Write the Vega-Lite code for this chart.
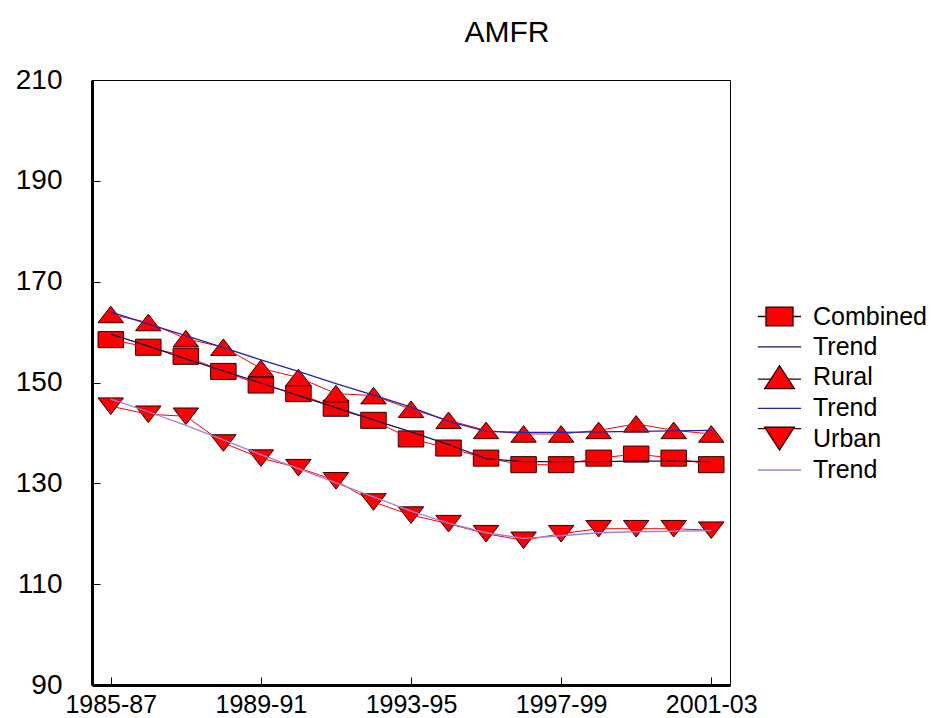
{
  "$schema": "https://vega.github.io/schema/vega-lite/v6.json",
  "width": 638,
  "height": 605,
  "autosize": {"type": "none"},
  "padding": {"left": 92, "top": 80, "right": 202, "bottom": 33},
  "background": "white",
  "config": {
    "view": {"stroke": "#000000", "strokeWidth": 1},
    "font": "Liberation Sans"
  },
  "title": {"text": "AMFR", "fontSize": 30, "fontWeight": "normal", "color": "#000000", "dx": 96, "offset": 18, "anchor": "middle", "font": "Liberation Sans"},
  "datasets": {
    "obs": [
      {"period": "1985-87", "series": "Combined", "value": 158.5},
      {"period": "1986-88", "series": "Combined", "value": 157.0},
      {"period": "1987-89", "series": "Combined", "value": 155.2},
      {"period": "1988-90", "series": "Combined", "value": 152.2},
      {"period": "1989-91", "series": "Combined", "value": 149.5},
      {"period": "1990-92", "series": "Combined", "value": 147.8},
      {"period": "1991-93", "series": "Combined", "value": 144.9},
      {"period": "1992-94", "series": "Combined", "value": 142.5},
      {"period": "1993-95", "series": "Combined", "value": 138.8},
      {"period": "1994-96", "series": "Combined", "value": 137.0},
      {"period": "1995-97", "series": "Combined", "value": 135.0},
      {"period": "1996-98", "series": "Combined", "value": 133.7},
      {"period": "1997-99", "series": "Combined", "value": 133.7},
      {"period": "1998-00", "series": "Combined", "value": 135.0},
      {"period": "1999-01", "series": "Combined", "value": 135.8},
      {"period": "2000-02", "series": "Combined", "value": 135.0},
      {"period": "2001-03", "series": "Combined", "value": 133.7},
      {"period": "1985-87", "series": "Rural", "value": 163.5},
      {"period": "1986-88", "series": "Rural", "value": 161.9},
      {"period": "1987-89", "series": "Rural", "value": 158.7},
      {"period": "1988-90", "series": "Rural", "value": 157.0},
      {"period": "1989-91", "series": "Rural", "value": 152.8},
      {"period": "1990-92", "series": "Rural", "value": 151.0},
      {"period": "1991-93", "series": "Rural", "value": 147.8},
      {"period": "1992-94", "series": "Rural", "value": 147.4},
      {"period": "1993-95", "series": "Rural", "value": 144.7},
      {"period": "1994-96", "series": "Rural", "value": 142.5},
      {"period": "1995-97", "series": "Rural", "value": 140.5},
      {"period": "1996-98", "series": "Rural", "value": 139.8},
      {"period": "1997-99", "series": "Rural", "value": 139.8},
      {"period": "1998-00", "series": "Rural", "value": 140.5},
      {"period": "1999-01", "series": "Rural", "value": 141.8},
      {"period": "2000-02", "series": "Rural", "value": 140.5},
      {"period": "2001-03", "series": "Rural", "value": 139.8},
      {"period": "1985-87", "series": "Urban", "value": 145.3},
      {"period": "1986-88", "series": "Urban", "value": 143.7},
      {"period": "1987-89", "series": "Urban", "value": 143.3},
      {"period": "1988-90", "series": "Urban", "value": 138.0},
      {"period": "1989-91", "series": "Urban", "value": 135.0},
      {"period": "1990-92", "series": "Urban", "value": 133.1},
      {"period": "1991-93", "series": "Urban", "value": 130.5},
      {"period": "1992-94", "series": "Urban", "value": 126.3},
      {"period": "1993-95", "series": "Urban", "value": 123.7},
      {"period": "1994-96", "series": "Urban", "value": 122.0},
      {"period": "1995-97", "series": "Urban", "value": 120.0},
      {"period": "1996-98", "series": "Urban", "value": 118.7},
      {"period": "1997-99", "series": "Urban", "value": 120.0},
      {"period": "1998-00", "series": "Urban", "value": 121.0},
      {"period": "1999-01", "series": "Urban", "value": 121.0},
      {"period": "2000-02", "series": "Urban", "value": 121.0},
      {"period": "2001-03", "series": "Urban", "value": 120.7}
    ],
    "trend": [
      {"period": "1985-87", "series": "Trend C", "value": 159.6},
      {"period": "1986-88", "series": "Trend C", "value": 157.2},
      {"period": "1987-89", "series": "Trend C", "value": 154.7},
      {"period": "1988-90", "series": "Trend C", "value": 152.3},
      {"period": "1989-91", "series": "Trend C", "value": 149.9},
      {"period": "1990-92", "series": "Trend C", "value": 147.4},
      {"period": "1991-93", "series": "Trend C", "value": 145.0},
      {"period": "1992-94", "series": "Trend C", "value": 142.6},
      {"period": "1993-95", "series": "Trend C", "value": 140.2},
      {"period": "1994-96", "series": "Trend C", "value": 137.7},
      {"period": "1995-97", "series": "Trend C", "value": 134.9},
      {"period": "1996-98", "series": "Trend C", "value": 134.3},
      {"period": "1997-99", "series": "Trend C", "value": 134.3},
      {"period": "1998-00", "series": "Trend C", "value": 134.3},
      {"period": "1999-01", "series": "Trend C", "value": 134.4},
      {"period": "2000-02", "series": "Trend C", "value": 134.4},
      {"period": "2001-03", "series": "Trend C", "value": 134.3},
      {"period": "1985-87", "series": "Trend R", "value": 164.0},
      {"period": "1986-88", "series": "Trend R", "value": 161.6},
      {"period": "1987-89", "series": "Trend R", "value": 159.3},
      {"period": "1988-90", "series": "Trend R", "value": 156.9},
      {"period": "1989-91", "series": "Trend R", "value": 154.5},
      {"period": "1990-92", "series": "Trend R", "value": 152.2},
      {"period": "1991-93", "series": "Trend R", "value": 149.8},
      {"period": "1992-94", "series": "Trend R", "value": 147.5},
      {"period": "1993-95", "series": "Trend R", "value": 145.1},
      {"period": "1994-96", "series": "Trend R", "value": 142.3},
      {"period": "1995-97", "series": "Trend R", "value": 140.3},
      {"period": "1996-98", "series": "Trend R", "value": 140.1},
      {"period": "1997-99", "series": "Trend R", "value": 140.1},
      {"period": "1998-00", "series": "Trend R", "value": 140.2},
      {"period": "1999-01", "series": "Trend R", "value": 140.3},
      {"period": "2000-02", "series": "Trend R", "value": 140.4},
      {"period": "2001-03", "series": "Trend R", "value": 140.5},
      {"period": "1985-87", "series": "Trend U", "value": 146.7},
      {"period": "1986-88", "series": "Trend U", "value": 144.2},
      {"period": "1987-89", "series": "Trend U", "value": 141.5},
      {"period": "1988-90", "series": "Trend U", "value": 138.6},
      {"period": "1989-91", "series": "Trend U", "value": 135.7},
      {"period": "1990-92", "series": "Trend U", "value": 132.9},
      {"period": "1991-93", "series": "Trend U", "value": 130.1},
      {"period": "1992-94", "series": "Trend U", "value": 127.3},
      {"period": "1993-95", "series": "Trend U", "value": 124.5},
      {"period": "1994-96", "series": "Trend U", "value": 122.1},
      {"period": "1995-97", "series": "Trend U", "value": 120.2},
      {"period": "1996-98", "series": "Trend U", "value": 119.1},
      {"period": "1997-99", "series": "Trend U", "value": 119.6},
      {"period": "1998-00", "series": "Trend U", "value": 120.2},
      {"period": "1999-01", "series": "Trend U", "value": 120.4},
      {"period": "2000-02", "series": "Trend U", "value": 120.5},
      {"period": "2001-03", "series": "Trend U", "value": 120.6}
    ]
  },
  "encoding": {
    "x": {
      "field": "period",
      "type": "ordinal",
      "scale": {
        "type": "point",
        "padding": 0.5,
        "domain": ["1985-87", "1986-88", "1987-89", "1988-90", "1989-91", "1990-92", "1991-93", "1992-94", "1993-95", "1994-96", "1995-97", "1996-98", "1997-99", "1998-00", "1999-01", "2000-02", "2001-03"]
      },
      "axis": {
        "values": ["1985-87", "1989-91", "1993-95", "1997-99", "2001-03"],
        "title": null,
        "labelAngle": 0,
        "labelFontSize": 25,
        "labelColor": "#000000",
        "labelFont": "Liberation Sans",
        "domainColor": "#000000",
        "domainWidth": 3,
        "tickColor": "#000000",
        "tickWidth": 1,
        "tickSize": -8,
        "labelPadding": 15,
        "grid": false
      }
    },
    "y": {
      "field": "value",
      "type": "quantitative",
      "scale": {"domain": [90, 210], "nice": false, "zero": false},
      "axis": {
        "values": [90, 110, 130, 150, 170, 190, 210],
        "title": null,
        "labelFontSize": 28,
        "labelColor": "#000000",
        "labelFont": "Liberation Sans",
        "domainColor": "#000000",
        "domainWidth": 3,
        "tickColor": "#000000",
        "tickWidth": 1,
        "tickSize": -8,
        "labelPadding": 38,
        "grid": false
      }
    }
  },
  "layer": [
    {
      "data": {"name": "obs"},
      "mark": {"type": "point", "filled": true, "size": 650, "fill": "#ff0000", "stroke": "#2a0000", "strokeWidth": 1, "opacity": 1},
      "encoding": {
        "shape": {
          "field": "series",
          "type": "nominal",
          "scale": {
            "domain": ["Combined", "Rural", "Urban"],
            "range": ["M-1,-0.63H1V0.63H-1Z", "M0,-0.65L1,0.65H-1Z", "M-1,-0.65H1L0,0.65Z"]
          },
          "legend": null
        }
      }
    },
    {
      "data": {"name": "obs"},
      "mark": {"type": "line", "stroke": "#ff0000", "strokeWidth": 1},
      "encoding": {"detail": {"field": "series", "type": "nominal"}}
    },
    {
      "data": {"name": "trend"},
      "mark": {"type": "line", "strokeWidth": 1.3},
      "encoding": {
        "stroke": {
          "field": "series",
          "type": "nominal",
          "scale": {
            "domain": ["Combined", "Trend C", "Rural", "Trend R", "Urban", "Trend U"],
            "range": ["#2a0000", "#14144f", "#2a0000", "#2424aa", "#2a0000", "#a080e0"]
          },
          "legend": {
            "title": null,
            "orient": "none",
            "legendX": 673,
            "legendY": 222,
            "padding": 0,
            "labelFontSize": 25,
            "labelFont": "Liberation Sans",
            "labelColor": "#000000",
            "labelOffset": 19,
            "symbolSize": 729,
            "symbolStrokeWidth": 1.3,
            "rowPadding": 2.3,
            "labelExpr": "indexof(datum.label, 'Trend') === 0 ? 'Trend' : datum.label",
            "encode": {
              "symbols": {
                "update": {
                  "shape": {"signal": "datum.value === 'Combined' ? 'M-1.6,0H-1M1,0H1.6M-1,-0.7H1V0.7H-1Z' : datum.value === 'Rural' ? 'M-1.6,0.15H-0.66M0.66,0.15H1.6M0,-0.85L1.1,0.85H-1.1Z' : datum.value === 'Urban' ? 'M-1.6,-0.75H-1.04M1.04,-0.75H1.6M-1.1,-0.85H1.1L0,0.85Z' : 'M-1.6,0H1.6'"},
                  "fill": {"signal": "indexof(datum.value, 'Trend') === 0 ? 'transparent' : '#ff0000'"},
                  "stroke": {"signal": "datum.value === 'Trend C' ? '#14144f' : datum.value === 'Trend R' ? '#2424aa' : datum.value === 'Trend U' ? '#a080e0' : '#2a0000'"},
                  "strokeWidth": {"value": 1.3},
                  "opacity": {"value": 1}
                }
              }
            }
          }
        }
      }
    }
  ]
}
